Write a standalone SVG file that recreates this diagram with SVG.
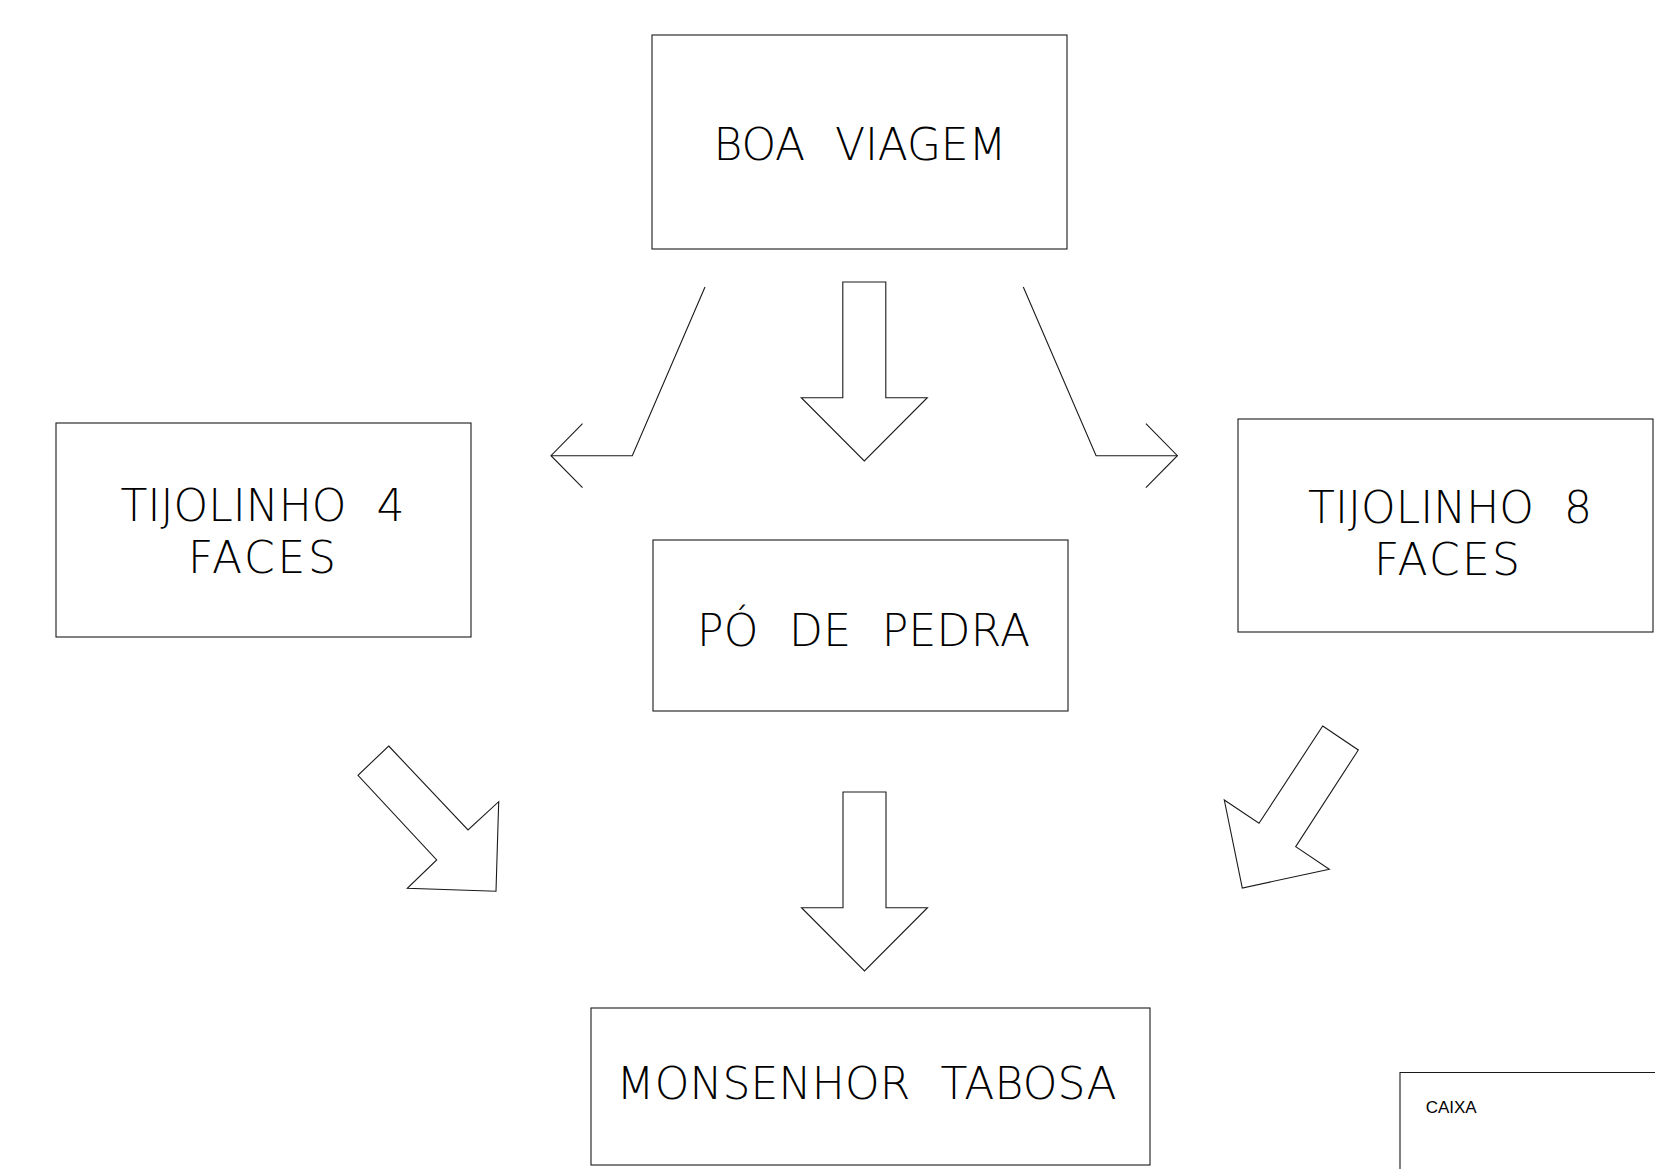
<svg xmlns="http://www.w3.org/2000/svg" xmlns:xlink="http://www.w3.org/1999/xlink" width="1655" height="1169" viewBox="0 0 1655 1169">
  <style>
    .box { fill: #ffffff; stroke: #1a1a1a; stroke-width: 1.1; }
    .lbl { font-family: "DejaVu Sans", "Liberation Sans", sans-serif; font-weight: 200; font-size: 44px; fill: #000; word-spacing: 16px; }
    .small { font-family: "Liberation Sans", Arial, sans-serif; font-size: 16px; fill: #000; }
    .line { fill: none; stroke: #1a1a1a; stroke-width: 1.1; stroke-linejoin: miter; }
  </style>
  <defs>
    <marker id="chev" markerUnits="userSpaceOnUse" viewBox="-35 -35 40 70" markerWidth="40" markerHeight="70" refX="0" refY="0" orient="auto" overflow="visible">
      <path d="M-31.5,-32 L0,0 L-31.5,32" fill="none" stroke="#1a1a1a" stroke-width="1.1"/>
    </marker>
    <path id="downArrow" d="M-21.5,0 H21.5 V115.7 H63 L0,179 L-63,115.7 H-21.5 Z"/>
  </defs>
  <rect width="1655" height="1169" fill="#ffffff"/>

  <g id="connectors">
    <polyline class="line" points="705,287 632.3,455.7 551,455.7" marker-end="url(#chev)"/>
    <polyline class="line" points="1023.3,287 1096.1,455.7 1177.4,455.7" marker-end="url(#chev)"/>
    <use xlink:href="#downArrow" class="line" transform="translate(864.3,282)"/>
    <use xlink:href="#downArrow" class="line" transform="translate(864.5,792)"/>
    <polygon class="line" points="388.7,746 468,830 498.7,801.7 496,891.3 407.3,888.3 436.7,860 358,775.3"/>
    <polygon class="line" points="1322.7,726 1358.3,750 1295.7,846.7 1329.3,869.3 1242.3,888 1224.3,800 1259,823.3"/>
  </g>

  <g id="node-boa-viagem">
    <rect class="box" x="652" y="35" width="415" height="214"/>
    <text class="lbl" x="713.5" y="160" textLength="293" lengthAdjust="spacing">BOA VIAGEM</text>
  </g>

  <g id="node-tijolinho-4">
    <rect class="box" x="56" y="423" width="415" height="214"/>
    <text class="lbl" x="120.5" y="520.7" textLength="284" lengthAdjust="spacing">TIJOLINHO 4</text>
    <text class="lbl" x="188" y="573.3" textLength="148" lengthAdjust="spacing">FACES</text>
  </g>

  <g id="node-tijolinho-8">
    <rect class="box" x="1238" y="419" width="415" height="213"/>
    <text class="lbl" x="1308" y="522.7" textLength="284" lengthAdjust="spacing">TIJOLINHO 8</text>
    <text class="lbl" x="1374" y="575" textLength="146" lengthAdjust="spacing">FACES</text>
  </g>

  <g id="node-po-de-pedra">
    <rect class="box" x="653" y="540" width="415" height="171"/>
    <text class="lbl" x="697" y="645.7" textLength="333" lengthAdjust="spacing">PÓ DE PEDRA</text>
  </g>

  <g id="node-monsenhor-tabosa">
    <rect class="box" x="591" y="1008" width="559" height="157"/>
    <text class="lbl" x="616.5" y="1099.3" textLength="500" lengthAdjust="spacing">MONSENHOR TABOSA</text>
  </g>

  <g id="node-caixa">
    <path class="line" d="M1400,1169 V1072.5 H1655"/>
    <text class="small" x="1425.7" y="1113.3" textLength="51" lengthAdjust="spacingAndGlyphs">CAIXA</text>
  </g>
</svg>
